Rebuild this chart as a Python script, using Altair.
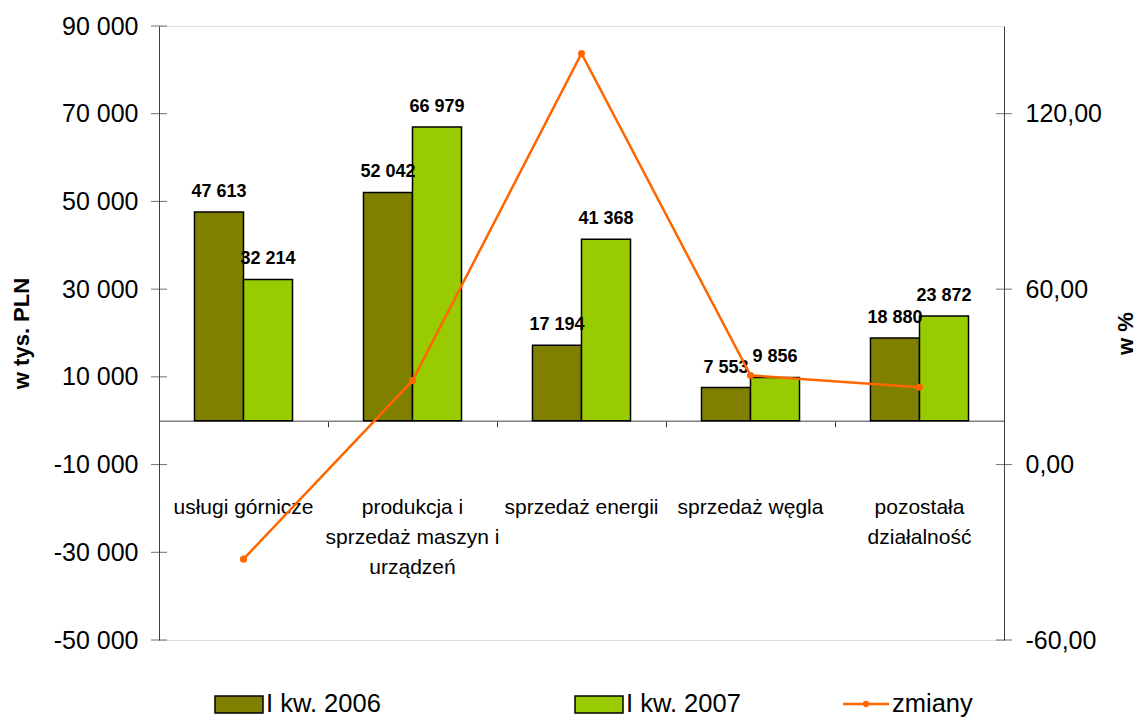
import altair as alt
import pandas as pd

categories = ["usługi górnicze", "produkcja i sprzedaż maszyn i urządzeń",
              "sprzedaż energii", "sprzedaż węgla", "pozostała działalność"]
category_lines = ["usługi górnicze", "produkcja i\nsprzedaż maszyn i\nurządzeń",
                  "sprzedaż energii", "sprzedaż węgla", "pozostała\ndziałalność"]
series = ["I kw. 2006", "I kw. 2007"]
values_2006 = [47613, 52042, 17194, 7553, 18880]
values_2007 = [32214, 66979, 41368, 9856, 23872]
changes = [-32.34, 28.70, 140.60, 30.49, 26.44]
left_ticks = [-50000, -30000, -10000, 10000, 30000, 50000, 70000, 90000]
right_ticks = [-60, 0, 60, 120]
colors = ["#808000", "#99CC00"]
line_color = "#FF6600"
FONT = "Liberation Sans"

W, H = 845, 614
L_DOM = [-50000, 90000]
R_DOM = [-60, 150]
zero_offset = -(H * (0 - L_DOM[0]) / (L_DOM[1] - L_DOM[0]))

bar_df = pd.DataFrame({
    "cat": categories * 2,
    "series": [series[0]] * 5 + [series[1]] * 5,
    "value": values_2006 + values_2007,
})
line_df = pd.DataFrame({"cat": categories, "pct": changes})
cat_df = pd.DataFrame({"cat": categories, "lbl": category_lines})
lt_df = pd.DataFrame({"t": left_ticks})
rt_df = pd.DataFrame({"pct": right_ticks})

common_axis = dict(labelFont=FONT, labelFontSize=25, labelColor="black",
                   titleFont=FONT, titleFontSize=22, titleFontWeight="bold", titleColor="black")

xs = alt.X("cat:N", sort=categories,
           scale=alt.Scale(domain=categories, paddingInner=0, paddingOuter=0),
           axis=alt.Axis(title=None, labels=False, offset=zero_offset, tickBand="extent",
                         tickSize=6, tickColor="#333333", domainColor="#808080",
                         domainWidth=1.5, grid=False))
yL_scale = alt.Scale(domain=L_DOM, nice=False, zero=False)
yR_scale = alt.Scale(domain=R_DOM, nice=False, zero=False)
xoff = alt.XOffset("series:N", sort=series,
                   scale=alt.Scale(domain=series, paddingInner=0, paddingOuter=0.724))

left_axis = alt.Axis(values=left_ticks, ticks=False, tickSize=0, labelPadding=21,
                     domainColor="#404040", grid=False, title="w tys. PLN", titlePadding=20,
                     labelExpr="(datum.value < 0 ? '-' : '') + replace(format(abs(datum.value), ','), ',', ' ')",
                     **common_axis)
right_axis = alt.Axis(orient="right", values=right_ticks, ticks=False, tickSize=0, labelPadding=21,
                      domainColor="#404040", grid=False, title="w %", titleAngle=270, titlePadding=36,
                      labelExpr="(datum.value < 0 ? '-' : '') + replace(format(abs(datum.value), '.2f'), '.', ',')",
                      **common_axis)

bars = alt.Chart(bar_df).mark_bar(stroke="black", strokeWidth=1.5).encode(
    x=xs, xOffset=xoff,
    y=alt.Y("value:Q", scale=yL_scale, axis=left_axis),
    color=alt.Color("series:N", scale=alt.Scale(domain=series, range=colors), legend=None),
)
bar_labels = alt.Chart(bar_df).transform_calculate(
    label="replace(format(datum.value, ','), ',', ' ')"
).mark_text(font=FONT, fontSize=18, fontWeight="bold", baseline="alphabetic", dy=-15,
            color="black").encode(
    x=xs, xOffset=xoff,
    y=alt.Y("value:Q", scale=yL_scale),
    text="label:N",
)
ticksL = alt.Chart(lt_df).mark_tick(size=16, thickness=1, color="#333333").encode(
    y=alt.Y("t:Q", scale=yL_scale), x=alt.value(0))
cat_labels = alt.Chart(cat_df).mark_text(font=FONT, fontSize=21, lineBreak="\n", lineHeight=30,
                                         baseline="alphabetic", align="center", color="black").encode(
    x=xs, y=alt.value(488), text="lbl:N")

# legend
LEG_FS = 25.5
LEG_Y = 678
leg_rect1 = alt.Chart(pd.DataFrame({"s": [series[0]]})).mark_rect(
    color=colors[0], stroke="black", strokeWidth=1.5).encode(
    x=alt.value(56), x2=alt.value(104), y=alt.value(LEG_Y - 8), y2=alt.value(LEG_Y + 9))
leg_rect2 = alt.Chart(pd.DataFrame({"s": [series[1]]})).mark_rect(
    color=colors[1], stroke="black", strokeWidth=1.5).encode(
    x=alt.value(416), x2=alt.value(464), y=alt.value(LEG_Y - 8), y2=alt.value(LEG_Y + 9))
leg_text1 = alt.Chart(pd.DataFrame({"s": [series[0]]})).mark_text(
    font=FONT, fontSize=LEG_FS, align="left", baseline="middle", color="black").encode(
    x=alt.value(107), y=alt.value(LEG_Y), text="s:N")
leg_text2 = alt.Chart(pd.DataFrame({"s": [series[1]]})).mark_text(
    font=FONT, fontSize=LEG_FS, align="left", baseline="middle", color="black").encode(
    x=alt.value(467), y=alt.value(LEG_Y), text="s:N")
leg_line = alt.Chart(pd.DataFrame({"s": ["zmiany"]})).mark_rule(
    color=line_color, strokeWidth=2.5).encode(
    x=alt.value(684), x2=alt.value(730), y=alt.value(LEG_Y))
leg_pt = alt.Chart(pd.DataFrame({"s": ["zmiany"]})).mark_point(
    filled=True, color=line_color, size=40, opacity=1).encode(
    x=alt.value(707), y=alt.value(LEG_Y))
leg_text3 = alt.Chart(pd.DataFrame({"s": ["zmiany"]})).mark_text(
    font=FONT, fontSize=LEG_FS, align="left", baseline="middle", color="black").encode(
    x=alt.value(733), y=alt.value(LEG_Y), text="s:N")

left_group = alt.layer(bars, bar_labels, ticksL, cat_labels,
                       leg_rect1, leg_rect2, leg_text1, leg_text2, leg_line, leg_pt, leg_text3)

line = alt.Chart(line_df).mark_line(color=line_color, strokeWidth=2.5).encode(
    x=xs, y=alt.Y("pct:Q", scale=yR_scale, axis=right_axis))
points = alt.Chart(line_df).mark_point(filled=True, color=line_color, size=50, opacity=1).encode(
    x=xs, y=alt.Y("pct:Q", scale=yR_scale))
ticksR = alt.Chart(rt_df).mark_tick(size=16, thickness=1, color="#333333").encode(
    y=alt.Y("pct:Q", scale=yR_scale), x=alt.value(W))
right_group = alt.layer(line, points, ticksR)

chart = alt.layer(left_group, right_group).resolve_scale(y="independent").properties(
    width=W, height=H,
    padding={"left": 159, "top": 26, "right": 138, "bottom": 78},
    autosize="none",
).configure_view(stroke=None).configure(background="white")

chart.save("out.html", embed_options={"renderer": "svg", "actions": False})
